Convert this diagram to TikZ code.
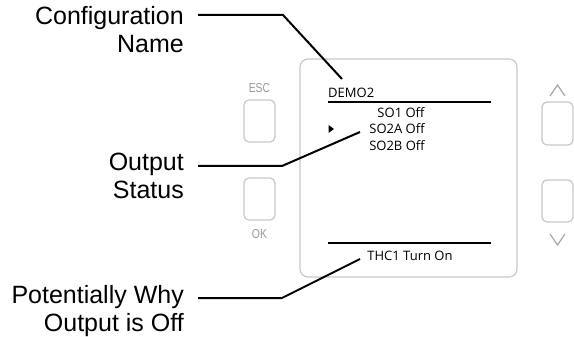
\documentclass[tikz,border=0pt]{standalone}
\usepackage{fontspec}
\setmainfont{Liberation Sans}
\newfontfamily\screenfont{Open Sans}
\newfontfamily\keyfont[FakeStretch=0.8]{Liberation Sans}
\begin{document}
\begin{tikzpicture}[x=1pt,y=-1pt,
  lbl/.style={font=\fontsize{25}{28}\selectfont, align=right, inner sep=0pt, anchor=north east},
  conn/.style={line width=2pt, black},
  panel/.style={draw=black!22, line width=1.2pt, rounded corners=8pt},
  keybox/.style={draw=black!22, line width=1.2pt, rounded corners=5pt},
  keylbl/.style={font=\keyfont\fontsize{13}{13}\selectfont, text=black!40, inner sep=0pt},
  scr/.style={font=\screenfont\fontsize{13}{15}\selectfont, inner sep=0pt, anchor=base},
  rule/.style={line width=1.3pt, black}]
\useasboundingbox (0,0) rectangle (574,337);
% labels
\node[lbl] (cfg) at (184,6.5) {Configuration\\Name};
\node[lbl] (out) at (184,152.5) {Output\\Status};
\node[lbl] (why) at (184,285) {Potentially Why\\Output is Off};
% device
\draw[panel] (300,59) rectangle (517,277);
\draw[keybox] (244,100) rectangle (275,142);
\draw[keybox] (244,178) rectangle (275,220);
\draw[keybox] (542,102) rectangle (573,145);
\draw[keybox] (542,180) rectangle (573,222);
\node[keylbl] (esc) at (259.5,88) {ESC};
\node[keylbl] (ok) at (259.5,234) {OK};
\draw[black!35, line width=1.2pt] (550,96) -- (557.5,85) -- (565,96);
\draw[black!35, line width=1.2pt] (550,234) -- (557.5,245) -- (565,234);
% screen
\node[scr, anchor=base west] (demo) at (328,98) {DEMO2};
\draw[rule] (328,102) -- (491,102);
\node[scr] (so1) at (401,118) {SO1 Off};
\node[scr] (so2a) at (397,134) {SO2A Off};
\node[scr] (so2b) at (397,150) {SO2B Off};
\fill (328.5,125) -- (334,129) -- (328.5,133) -- cycle;
\draw[rule] (328,243) -- (491,243);
\node[scr] (thc) at (410,260) {THC1 Turn On};
% connectors
\coordinate (c1) at (198,15);
\coordinate (c2) at (198,166);
\coordinate (c3) at (198,298);
\draw[conn] (c1) -- (283,15) -- (342,79);
\draw[conn] (c2) -- (282,166) -- (360,132);
\draw[conn] (c3) -- (282,298) -- (360,259);
\end{tikzpicture}
\end{document}
